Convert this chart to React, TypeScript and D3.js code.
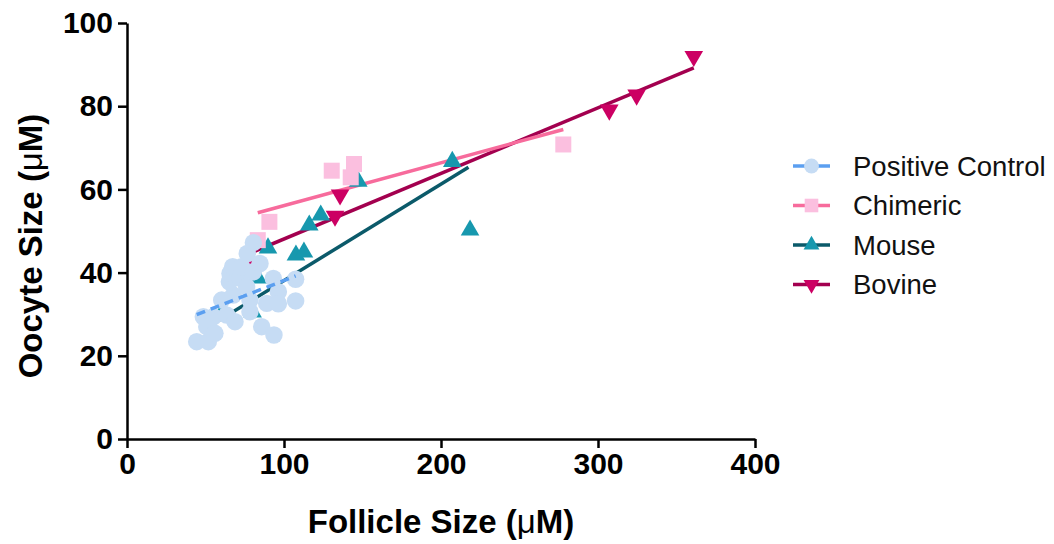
import React, { useRef, useEffect } from 'react';
import * as d3 from 'd3';

// follicle size (x), oocyte size (y)
const positiveControl: [number, number][] = [
  [44.4, 23.4], [51.8, 23.4], [48.6, 29.4], [55, 29.4], [50.8, 27], [56, 25.4],
  [60.3, 33.4], [63.5, 29.8], [67.7, 34.6], [68.8, 28.2], [65.2, 37.8], [65.6, 39.8],
  [67.3, 41.4], [72, 38.7], [73, 41.4], [76.2, 36.6], [76.6, 44.6], [78.3, 33.4],
  [78.3, 30.6], [80.5, 47.2], [80.5, 40.2], [84.7, 42.2], [85.8, 27], [89, 32.6],
  [93.2, 38.6], [93.6, 25], [96.4, 35.4], [96.4, 32.5], [107.4, 38.4], [107.4, 33.2],
];
const chimeric: [number, number][] = [
  [83.3, 47.8], [90.7, 52.2], [130.4, 64.5], [142.5, 62.9], [144.6, 66.1], [277.9, 70.8],
];
const mouse: [number, number][] = [
  [60, 30], [80, 30.5], [83.4, 38.7], [89.8, 45.9], [107.6, 44.2], [112.7, 44.9],
  [116.1, 51.4], [123.4, 53.8], [147.3, 61.9], [207.2, 66.7], [218.5, 50.2],
];
const bovine: [number, number][] = [
  [78, 41.5], [132.5, 53.6], [135.7, 58.7], [307.2, 79.1], [324.6, 82.7], [361, 92],
];

// regression line ends [x0, y0, x1, y1]
const pcFit = [44.4, 29.9, 107.4, 39.2];
const chimericFit = [83.3, 54.4, 277.9, 74.4];
const mouseFit = [59, 28.6, 217.5, 65.3];
const bovineFit = [76, 44.3, 361, 89.2];

const xTicks = [0, 100, 200, 300, 400];
const yTicks = [0, 20, 40, 60, 80, 100];
const seriesNames = ['Positive Control', 'Chimeric', 'Mouse', 'Bovine'];

const FONT = 'Liberation Sans, Arial, sans-serif';

const App = () => {
  const svgRef = useRef<SVGSVGElement>(null);

  useEffect(() => {
    const svg = d3.select(svgRef.current);
    svg.selectAll('*').remove();

    const x = d3.scaleLinear().domain([0, 400]).range([127, 755]);
    const y = d3.scaleLinear().domain([0, 100]).range([439, 23]);

    const series = [
      { name: seriesNames[0], pts: positiveControl, fit: pcFit, fill: '#c6dcf4', stroke: '#5b9ff0', shape: 'circle', dash: '9,6' },
      { name: seriesNames[1], pts: chimeric, fit: chimericFit, fill: '#fbbfdf', stroke: '#f76b9c', shape: 'square', dash: null },
      { name: seriesNames[2], pts: mouse, fit: mouseFit, fill: '#1798ae', stroke: '#0b5a6a', shape: 'up', dash: null },
      { name: seriesNames[3], pts: bovine, fit: bovineFit, fill: '#cc0063', stroke: '#a3004f', shape: 'down', dash: null },
    ];

    const symbolPath = (shape: string) => {
      if (shape === 'circle') return d3.symbol(d3.symbolCircle, 240)();
      if (shape === 'square') return d3.symbol(d3.symbolSquare, 256)();
      return d3.symbol(d3.symbolTriangle, 150)();
    };
    const rot = (shape: string) => (shape === 'down' ? ' rotate(180)' : '');

    const drawFit = (s: any) => {
      svg.append('line')
        .attr('x1', x(s.fit[0])).attr('y1', y(s.fit[1]))
        .attr('x2', x(s.fit[2])).attr('y2', y(s.fit[3]))
        .attr('stroke', s.stroke)
        .attr('stroke-width', 3.5)
        .attr('stroke-dasharray', s.dash);
    };

    // fit lines under the markers, except the dashed control line
    [series[3], series[2], series[1]].forEach(drawFit);

    [series[3], series[2], series[1], series[0]].forEach(s => {
      svg.append('g')
        .selectAll('path')
        .data(s.pts)
        .enter()
        .append('path')
        .attr('d', symbolPath(s.shape))
        .attr('transform', d => `translate(${x(d[0])},${y(d[1])})${rot(s.shape)}`)
        .attr('fill', s.fill);
    });

    drawFit(series[0]);

    // axes
    const styleAxis = (g: any) => {
      g.select('.domain').attr('stroke', '#000').attr('stroke-width', 2.5);
      g.selectAll('.tick line').attr('stroke', '#000').attr('stroke-width', 2.5);
      g.selectAll('.tick text')
        .attr('fill', '#000')
        .style('font-family', FONT)
        .style('font-weight', 'bold')
        .style('font-size', '30px');
    };

    svg.append('g')
      .attr('transform', `translate(0,${y(0)})`)
      .call(d3.axisBottom(x).tickValues(xTicks).tickSize(9).tickPadding(5).tickSizeOuter(0))
      .call(styleAxis);

    svg.append('g')
      .attr('transform', `translate(${x(0)},0)`)
      .call(d3.axisLeft(y).tickValues(yTicks).tickSize(9).tickPadding(5).tickSizeOuter(0))
      .call(styleAxis);

    // axis titles
    const xt = svg.append('text')
      .attr('x', 441).attr('y', 533)
      .attr('text-anchor', 'middle')
      .style('font-family', FONT).style('font-weight', 'bold').style('font-size', '33px');
    xt.append('tspan').text('Follicle Size (');
    xt.append('tspan').style('font-weight', 'normal').text('μ');
    xt.append('tspan').text('M)');

    const yt = svg.append('text')
      .attr('transform', `translate(42, 246) rotate(-90)`)
      .attr('text-anchor', 'middle')
      .style('font-family', FONT).style('font-weight', 'bold').style('font-size', '33px');
    yt.append('tspan').text('Oocyte Size (');
    yt.append('tspan').style('font-weight', 'normal').text('μ');
    yt.append('tspan').text('M)');

    // legend
    const legend = svg.append('g').attr('transform', 'translate(793,166)');
    series.forEach((s, i) => {
      const row = legend.append('g').attr('transform', `translate(0,${i * 39.5})`);
      row.append('line')
        .attr('x1', 0).attr('x2', 37)
        .attr('stroke', s.stroke).attr('stroke-width', 3.5);
      row.append('path')
        .attr('d', symbolPath(s.shape))
        .attr('transform', `translate(18.5,0)${rot(s.shape)} scale(0.85)`)
        .attr('fill', s.fill);
      row.append('text')
        .attr('x', 60).attr('y', 0)
        .attr('dy', '0.35em')
        .style('font-family', FONT)
        .style('font-size', '27.5px')
        .attr('fill', '#111')
        .text(s.name);
    });
  }, []);

  return (
    <div style={{ position: 'absolute', left: 0, top: 0 }}>
      <svg ref={svgRef} width={1054} height={544} style={{ display: 'block', background: '#fff' }} />
    </div>
  );
};

export default App;
